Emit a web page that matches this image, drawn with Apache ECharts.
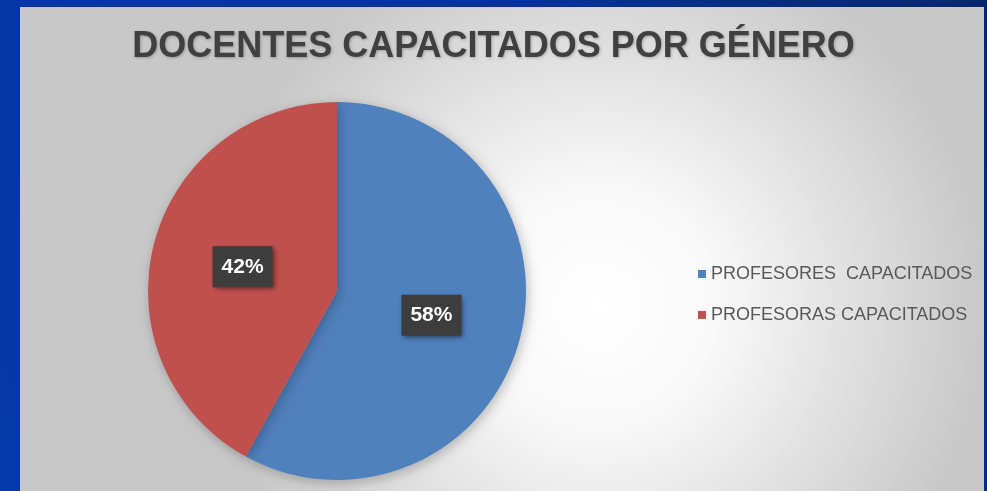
<!DOCTYPE html>
<html>
<head>
<meta charset="utf-8">
<script src="https://cdn.jsdelivr.net/npm/echarts@6/dist/echarts.min.js"></script>
<style>
html,body{margin:0;padding:0;background:#0536a3;}
#c{width:987px;height:491px;}
</style>
</head>
<body>
<div id="c"></div>
<script>
const titleText = 'DOCENTES CAPACITADOS POR GÉNERO';
const categories = ['PROFESORES  CAPACITADOS', 'PROFESORAS CAPACITADOS'];
const values = [58, 42];
const colors = ['#4f81bd', '#c0504d'];

const chart = echarts.init(document.getElementById('c'));
chart.setOption({
  animation: false,
  graphic: [
    {
      type: 'rect', z: -10, silent: true,
      shape: {x: 0, y: 0, width: 987, height: 491},
      style: {fill: {type: 'linear', x: 0, y: 1, x2: 1, y2: 0,
        colorStops: [{offset: 0, color: '#0538a8'}, {offset: 0.6, color: '#0532a0'}, {offset: 1, color: '#06286c'}]}}
    },
    {
      type: 'rect', z: -9, silent: true,
      shape: {x: 20, y: 7, width: 964, height: 484},
      style: {fill: {type: 'radial', x: 0.6, y: 0.62, r: 0.8,
        colorStops: [{offset: 0, color: '#ffffff'}, {offset: 0.3, color: '#f9f9f9'}, {offset: 1, color: '#c8c8c8'}]}}
    }
  ],
  title: {
    text: titleText,
    left: 'center',
    top: 24,
    textStyle: {
      fontFamily: 'Liberation Sans, Arial, sans-serif',
      fontWeight: 'bold',
      fontSize: 36,
      color: '#404040',
      textShadowColor: 'rgba(0,0,0,0.25)',
      textShadowBlur: 3,
      textShadowOffsetX: 1,
      textShadowOffsetY: 1
    }
  },
  legend: {
    orient: 'vertical',
    left: 693,
    top: 260,
    itemWidth: 8,
    itemHeight: 8,
    itemGap: 23,
    icon: 'rect',
    data: categories,
    textStyle: {
      fontFamily: 'Liberation Sans, Arial, sans-serif',
      fontSize: 18,
      color: '#595959'
    }
  },
  series: [{
    type: 'pie',
    center: [337, 291],
    radius: 189,
    startAngle: 90,
    clockwise: true,
    silent: true,
    color: colors,
    itemStyle: {
      borderWidth: 0,
      shadowBlur: 12,
      shadowColor: 'rgba(0,0,0,0.25)',
      shadowOffsetX: 2,
      shadowOffsetY: 3
    },
    label: {
      show: true,
      position: 'inside',
      formatter: '{d}%',
      fontFamily: 'Liberation Sans, Arial, sans-serif',
      fontWeight: 'bold',
      fontSize: 21,
      color: '#ffffff',
      backgroundColor: '#3d3d3d',
      padding: [10, 9],
      shadowColor: 'rgba(0,0,0,0.5)',
      shadowBlur: 5,
      shadowOffsetX: 2,
      shadowOffsetY: 2
    },
    labelLine: {show: false},
    data: categories.map((n, i) => ({name: n, value: values[i]}))
  }]
});
</script>
</body>
</html>
